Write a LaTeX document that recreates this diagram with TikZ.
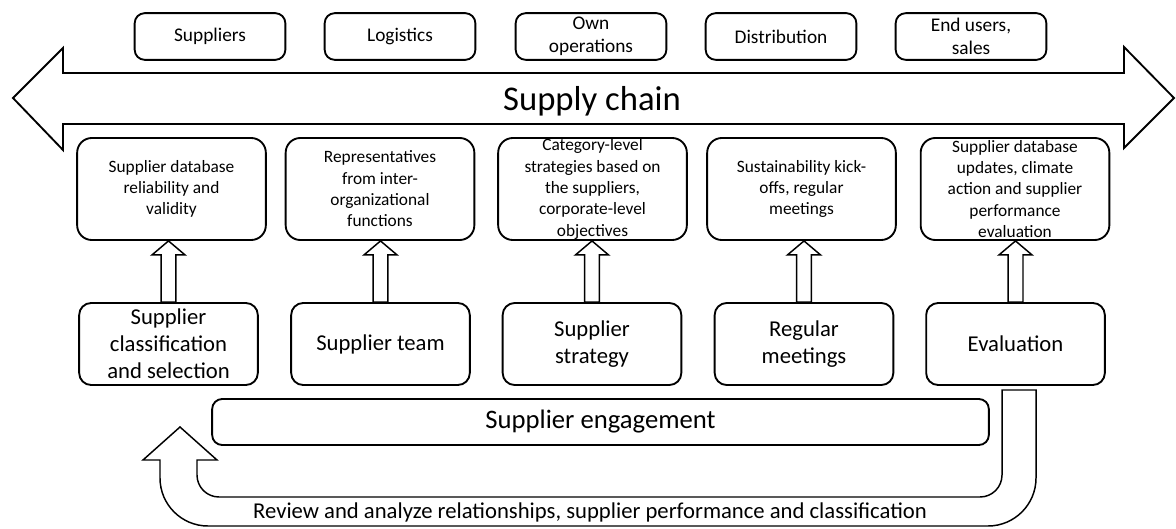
\documentclass[tikz,border=0pt]{standalone}
\usepackage{fontspec}
\setmainfont{Carlito}
\usetikzlibrary{calc}

\newcommand{\liftarrow}[2]{%
  \draw[lift] let \p1=(#1.north), \p2=(#2.south) in
    (\x1-5.6pt,\y1) -- (\x1-5.6pt,\y2-10.5pt) -- (\x1-12.4pt,\y2-10.5pt) -- (\x1,\y2)
    -- (\x1+12.4pt,\y2-10.5pt) -- (\x1+5.6pt,\y2-10.5pt) -- (\x1+5.6pt,\y1) -- cycle;}

\begin{document}
\begin{tikzpicture}[x=0.75pt,y=-0.75pt,
    stage/.style={draw,line width=1.4pt,rounded corners=7.5pt,minimum width=113pt,
      minimum height=35pt,inner sep=0pt,align=center,font=\fontsize{14.5}{17.25}\selectfont},
    goal/.style={draw,line width=1.4pt,rounded corners=11pt,minimum width=141.5pt,
      minimum height=76.5pt,inner xsep=0pt,inner ysep=-4pt,align=center,
      font=\fontsize{13}{16}\selectfont},
    task/.style={draw,line width=1.4pt,rounded corners=9pt,minimum width=134pt,
      minimum height=61.5pt,inner sep=0pt,align=center,font=\fontsize{17}{20.25}\selectfont},
    lift/.style={draw,line width=1.1pt,fill=white},
    chainarrow/.style={draw,line width=1.4pt,line join=miter}]
  \useasboundingbox (0,0) rectangle (1176,528);

  \node[stage] (sc1) at (210,36.5) {Suppliers};
  \node[stage] (sc2) at (400,36.5) {Logistics};
  \node[stage] (sc3) at (591,36.5) {Own\\operations};
  \node[stage] (sc4) at (781,36.5) {Distribution};
  \node[stage] (sc5) at (971,36.5) {End users,\\sales};

  \draw[chainarrow] (13,98) -- (63,48) -- (63,73) -- (1124,73) -- (1124,47) -- (1174,98)
    -- (1124,148) -- (1124,124) -- (63,124) -- (63,150) -- cycle;
  \node[font=\fontsize{26}{30}\selectfont] (chain) at (592,101) {Supply chain};

  \node[goal] (obj1) at (171.5,189) {Supplier database\\reliability and\\validity};
  \node[goal] (obj2) at (380,189) {Representatives\\from inter-\\organizational\\functions};
  \node[goal] (obj3) at (592.5,189) {Category-level\\strategies based on\\the suppliers,\\corporate-level\\objectives};
  \node[goal] (obj4) at (801.5,189) {Sustainability kick-\\offs, regular\\meetings};
  \node[goal] (obj5) at (1015,189) {Supplier database\\updates, climate\\action and supplier\\performance\\evaluation};

  \node[task] (act1) at (168.5,344) {Supplier\\classification\\and selection};
  \node[task] (act2) at (380.5,344) {Supplier team};
  \node[task] (act3) at (592,344) {Supplier\\strategy};
  \node[task] (act4) at (804,344) {Regular\\meetings};
  \node[task] (act5) at (1015.5,344) {Evaluation};

  \liftarrow{act1}{obj1}
  \liftarrow{act2}{obj2}
  \liftarrow{act3}{obj3}
  \liftarrow{act4}{obj4}
  \liftarrow{act5}{obj5}

  \node[draw,line width=1.4pt,rounded corners=7.5pt,minimum width=582.5pt,minimum height=34.5pt,
    inner sep=0pt,font=\fontsize{20}{24}\selectfont] (engage) at (600.5,422) {Supplier engagement};

  % feedback loop back to the start
  \draw[lift] (1002,390) -- (1036,390) -- (1036,478) arc[start angle=0,end angle=90,radius=48]
    -- (208,526) arc[start angle=90,end angle=180,radius=48] -- (160,460) -- (143,460)
    -- (180,427) -- (217,460) -- (197,460) -- (197,475)
    arc[start angle=180,end angle=90,radius=22] -- (980,497)
    arc[start angle=90,end angle=0,radius=22] -- cycle;
  \node[font=\fontsize{17}{20}\selectfont] (review) at (590,512)
    {Review and analyze relationships, supplier performance and classification};
\end{tikzpicture}
\end{document}
